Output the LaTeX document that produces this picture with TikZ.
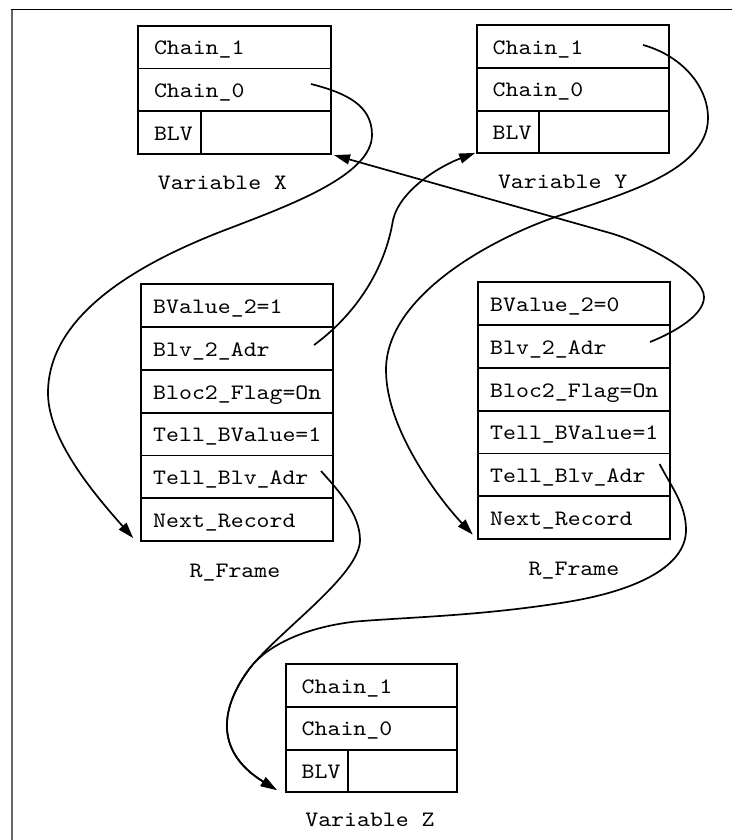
\documentclass[tikz,border=0pt]{standalone}
\usepackage{fontspec}
\newfontfamily\cellfamily{lmmono10-regular.otf}[FakeStretch=1.12]
\newcommand\cellfont{\cellfamily\fontsize{22}{24}\selectfont}
\usetikzlibrary{arrows.meta,calc}
\begin{document}
\begin{tikzpicture}[x=1pt,y=1pt,
  cell/.style 2 args={draw, line width=1.9pt, anchor=north west, align=left,
    inner ysep=0pt, outer sep=0pt, minimum height=42.8pt, text height=15.5pt, text depth=0pt,
    font=\cellfont, text width=#1, inner xsep=#2},
  lbl/.style={anchor=base, font=\cellfont, inner sep=0pt},
  link/.style={line width=1.7pt},
  arr/.style={link, -{Triangle[length=16pt,width=10pt]}}
]
\useasboundingbox (0,0) rectangle (732,-840);
% outer frame lines
\draw[line width=1pt] (11,-10) -- (732,-10);
\draw[line width=1.8pt, black!60] (11.7,-10) -- (11.7,-840);

% Variable X
\node[cell={161pt}{16pt}] (x0) at (138,-25.7) {Chain\_1};
\node[cell={161pt}{16pt}] (x1) at (x0.south west) {Chain\_0};
\node[cell={31pt}{16pt}] (xb) at (x1.south west) {\rlap{BLV}};
\node[cell={130pt}{0pt}] (xv) at (xb.north east) {};
\node[lbl] (lx) at (222.5,-189.3) {Variable X};

% Variable Y
\node[cell={160pt}{16pt}] (y0) at (476.7,-25) {Chain\_1};
\node[cell={160pt}{16pt}] (y1) at (y0.south west) {Chain\_0};
\node[cell={30.3pt}{16pt}] (yb) at (y1.south west) {\rlap{BLV}};
\node[cell={129.7pt}{0pt}] (yv) at (yb.north east) {};
\node[lbl] (ly) at (562.7,-188.3) {Variable Y};

% R_Frame left
\begin{scope}[every node/.append style={minimum height=42.6pt}]
\node[cell={167pt}{12.5pt}] (l0) at (140.7,-284.3) {BValue\_2=1};
\node[cell={167pt}{12.5pt}] (l1) at (l0.south west) {Blv\_2\_Adr};
\node[cell={167pt}{12.5pt}] (l2) at (l1.south west) {Bloc2\_Flag=On};
\node[cell={167pt}{12.5pt}] (l3) at (l2.south west) {Tell\_BValue=1};
\node[cell={167pt}{12.5pt}] (l4) at (l3.south west) {Tell\_Blv\_Adr};
\node[cell={167pt}{12.5pt}] (l5) at (l4.south west) {Next\_Record};
% R_Frame right
\node[cell={167.3pt}{12.5pt}] (r0) at (477.7,-282.3) {BValue\_2=0};
\node[cell={167.3pt}{12.5pt}] (r1) at (r0.south west) {Blv\_2\_Adr};
\node[cell={167.3pt}{12.5pt}] (r2) at (r1.south west) {Bloc2\_Flag=On};
\node[cell={167.3pt}{12.5pt}] (r3) at (r2.south west) {Tell\_BValue=1};
\node[cell={167.3pt}{12.5pt}] (r4) at (r3.south west) {Tell\_Blv\_Adr};
\node[cell={167.3pt}{12.5pt}] (r5) at (r4.south west) {Next\_Record};
\end{scope}
\node[lbl] (lr1) at (235,-577.5) {R\_Frame};
\node[lbl] (lr2) at (574,-575) {R\_Frame};

% Variable Z
\node[cell={139pt}{16pt}] (z0) at (285.7,-664) {Chain\_1};
\node[cell={139pt}{16pt}] (z1) at (z0.south west) {Chain\_0};
\node[cell={30pt}{16pt}] (zb) at (z1.south west) {\rlap{BLV}};
\node[cell={109pt}{0pt}] (zv) at (zb.north east) {};
\node[lbl] (lz) at (370,-826.7) {Variable Z};

% connector end points
\coordinate (sX) at (311,-84);
\coordinate (s2) at (314,-345);
\coordinate (s3) at (643,-45);
\coordinate (s4) at (321,-471);
\coordinate (s5) at (659.6,-464);
\coordinate (s6) at (650,-342);
\coordinate (m) at (250,-668);
\coordinate (t1) at ($(l5.south west)+(-7.5,3)$);
\coordinate (t2) at ($(yb.south west)+(-1.5,0.5)$);
\coordinate (t3) at ($(r5.south west)+(-5,4.5)$);
\coordinate (t6) at ($(xv.south east)+(3,-1)$);
\coordinate (t4) at ($(zb.south west)+(-9,2.4)$);

% X.Chain_0 -> left R_Frame
\draw[arr] (sX) .. controls (346,-93) and (372,-105) .. (372,-135)
  .. controls (372,-175) and (290,-205) .. (233,-227)
  .. controls (150,-258) and (48,-310) .. (48,-393)
  .. controls (48,-440) and (95,-495) .. (t1);
% left Blv_2_Adr -> Y BLV
\draw[arr] (s2) .. controls (355,-315) and (385,-270) .. (393,-220)
  .. controls (400,-190) and (440,-166) .. (t2);
% Y.Chain_1 -> right R_Frame
\draw[arr] (s3) .. controls (680,-55) and (708,-85) .. (708,-118)
  .. controls (708,-175) and (610,-197) .. (547,-220)
  .. controls (480,-245) and (386,-300) .. (386,-370)
  .. controls (386,-430) and (440,-500) .. (t3);
% right Blv_2_Adr -> X BLV
\draw[arr] (s6) .. controls (675,-332) and (704,-315) .. (704,-297)
  .. controls (704,-275) and (645,-243) .. (610,-233) -- (t6);
% left Tell_Blv_Adr -> Z BLV
\draw[arr] (s4) .. controls (340,-492) and (360,-515) .. (360,-540)
  .. controls (360,-575) and (280,-630) .. (m)
  .. controls (222,-705) and (212,-750) .. (t4);
% right Tell_Blv_Adr -> Z BLV
\draw[arr] (s5) .. controls (672,-488) and (686,-505) .. (686,-530)
  .. controls (686,-565) and (640,-590) .. (567,-602)
  .. controls (480,-616) and (410,-617) .. (355,-621.6)
  .. controls (300,-628) and (265,-648) .. (m)
  .. controls (222,-705) and (212,-750) .. (t4);
\end{tikzpicture}
\end{document}
